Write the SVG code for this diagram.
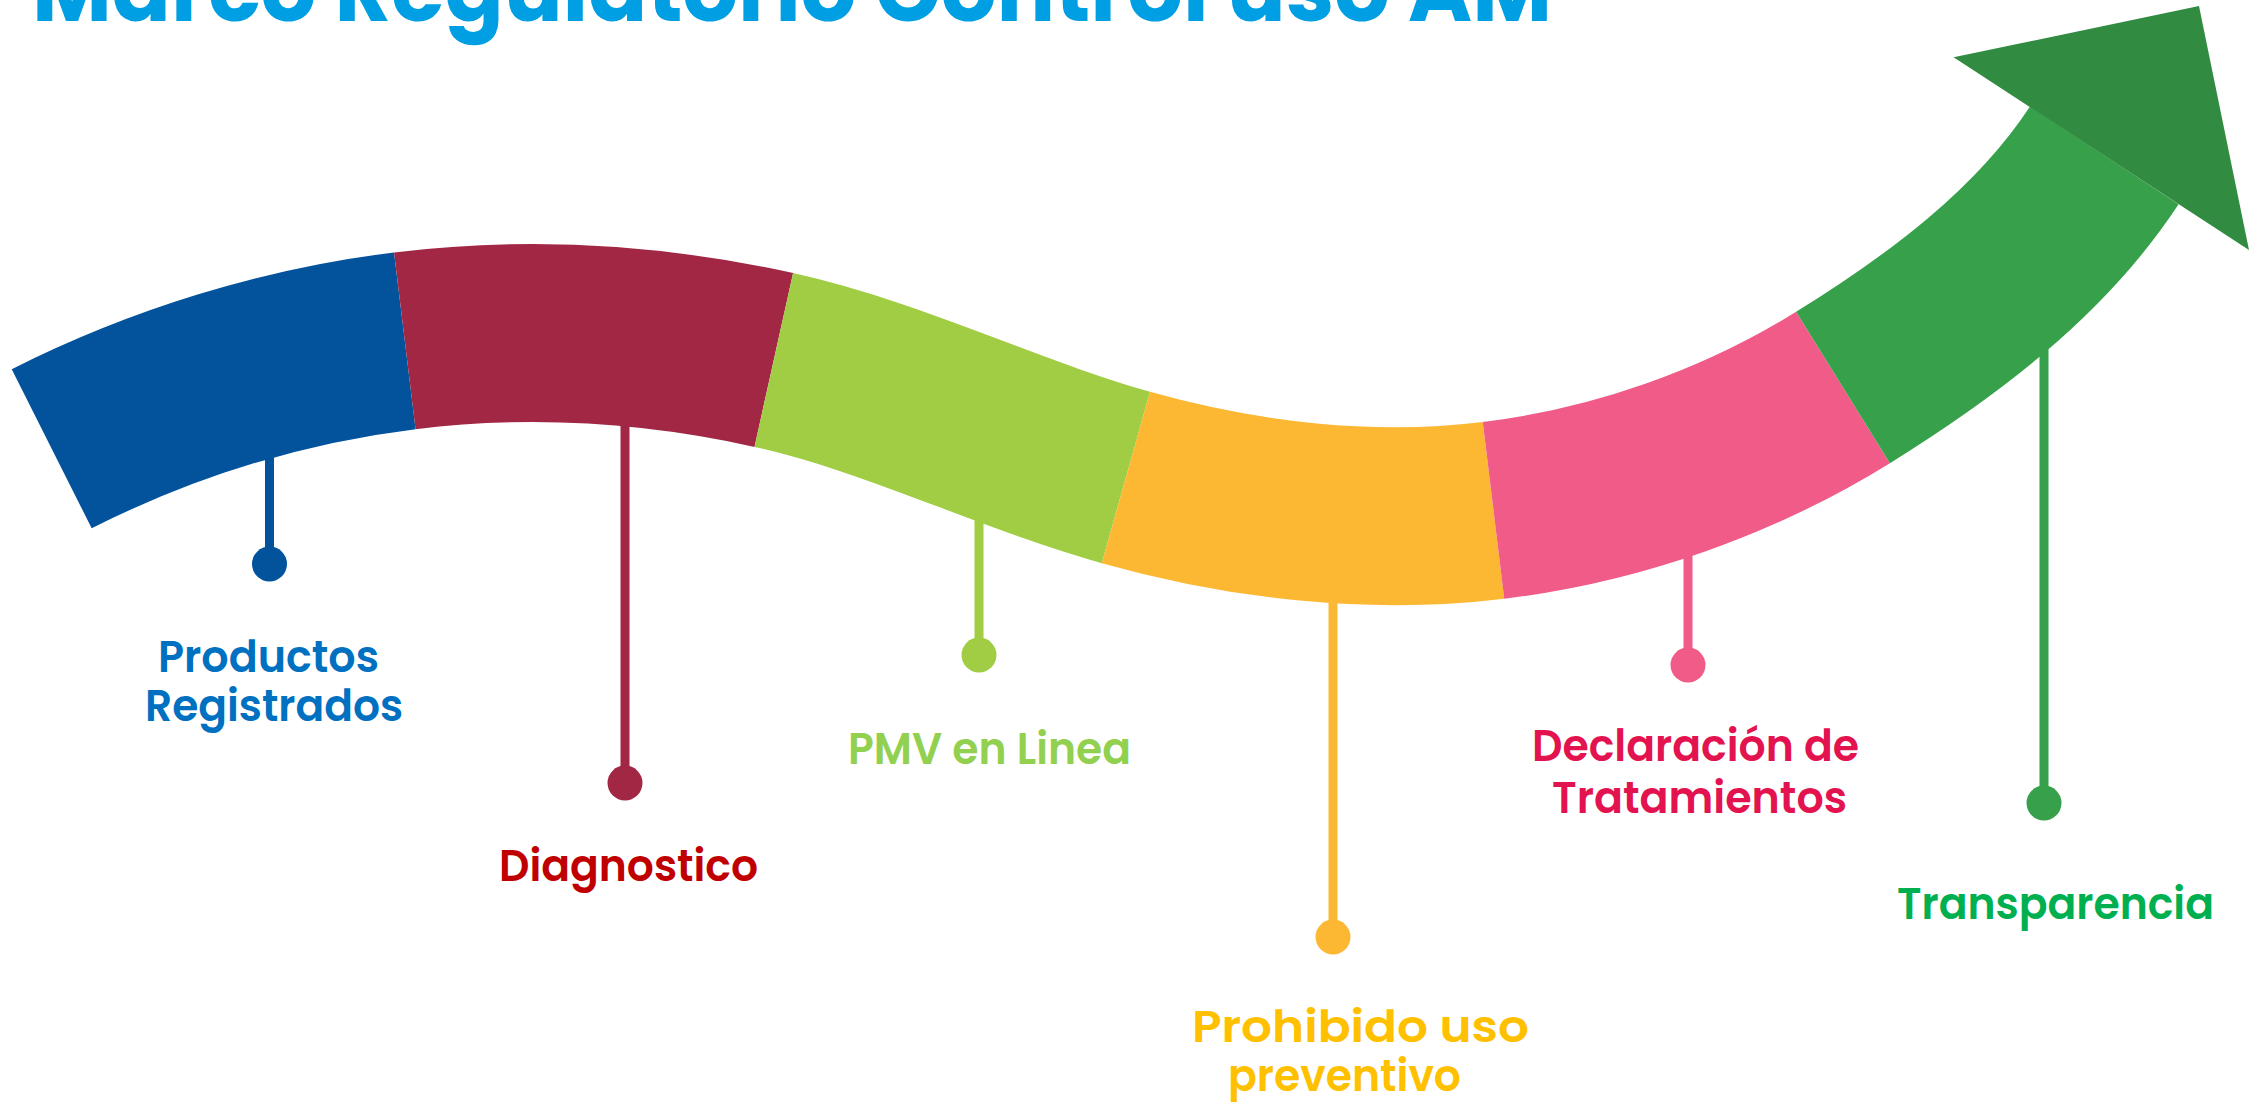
<svg xmlns="http://www.w3.org/2000/svg" width="2257" height="1102" viewBox="0 0 2257 1102">
  <style>
    .seg { fill: none; stroke-width: 178; stroke-linecap: butt; }
    .stick { stroke-width: 9; fill: none; }
    .lbl { font-family: Poppins, Inter, "Open Sans", "Liberation Sans", sans-serif; font-weight: 600; font-size: 44px; }
    .title { font-family: Poppins, Inter, "Open Sans", "Liberation Sans", sans-serif; font-weight: 700; font-size: 89px; fill: #009FE3; }
  </style>
  <rect width="2257" height="1102" fill="#FFFFFF"/>

  <text class="title" x="32" y="21" textLength="1520" lengthAdjust="spacingAndGlyphs">Marco Regulatorio Control uso AM</text>

  <g id="connectors">
    <line class="stick" x1="269.5" y1="430" x2="269.5" y2="564" stroke="#02529C"/>
    <line class="stick" x1="625" y1="400" x2="625" y2="783" stroke="#A12744"/>
    <line class="stick" x1="979" y1="490" x2="979" y2="655" stroke="#A0CD44"/>
    <line class="stick" x1="1333" y1="580" x2="1333" y2="937" stroke="#FCB833"/>
    <line class="stick" x1="1688" y1="530" x2="1688" y2="665" stroke="#F05B87"/>
    <line class="stick" x1="2044" y1="320" x2="2044" y2="803" stroke="#37A04A"/>
  </g>

  <g id="ribbon">
    <path class="seg" stroke="#02529C" d="M51.7,448.7 C161.5,393.5 282.7,355.7 404.8,340.8"/>
    <path class="seg" stroke="#A12744" d="M404.8,340.8 C527.1,325.9 653.6,333.3 773.8,360"/>
    <path class="seg" stroke="#A0CD44" d="M773.8,360 C894.5,386.8 1006.9,444 1125.9,477.5"/>
    <path class="seg" stroke="#FCB833" d="M1125.9,477.5 C1244.2,510.8 1371.4,525.3 1493.5,510.4"/>
    <path class="seg" stroke="#F05B87" d="M1493.5,510.4 C1616.1,495.5 1738,452.6 1843,387.5"/>
    <path class="seg" stroke="#37A04A" d="M1843,387.5 C1942,326.1 2040.2,252.9 2104.2,155.5"/>
    <polygon id="arrowhead" points="1953.6,57.3 2199,6 2249,250" fill="#318C42"/>
  </g>

  <g id="node-productos">
    <circle cx="269.5" cy="564" r="17.5" fill="#02529C"/>
    <text class="lbl" fill="#0070C0" x="158" y="672" textLength="221" lengthAdjust="spacingAndGlyphs">Productos</text>
    <text class="lbl" fill="#0070C0" x="145" y="721" textLength="258" lengthAdjust="spacingAndGlyphs">Registrados</text>
  </g>
  <g id="node-diagnostico">
    <circle cx="625" cy="783" r="17.5" fill="#A12744"/>
    <text class="lbl" fill="#C00000" x="499" y="881" textLength="259" lengthAdjust="spacingAndGlyphs">Diagnostico</text>
  </g>
  <g id="node-pmv">
    <circle cx="979" cy="655" r="17.5" fill="#A0CD44"/>
    <text class="lbl" fill="#92D050" x="848" y="764" textLength="283" lengthAdjust="spacingAndGlyphs">PMV en Linea</text>
  </g>
  <g id="node-prohibido">
    <circle cx="1333" cy="937" r="17.5" fill="#FCB833"/>
    <text class="lbl" fill="#FFC000" x="1192" y="1042" textLength="337" lengthAdjust="spacingAndGlyphs">Prohibido uso</text>
    <text class="lbl" fill="#FFC000" x="1228" y="1091" textLength="233" lengthAdjust="spacingAndGlyphs">preventivo</text>
  </g>
  <g id="node-declaracion">
    <circle cx="1688" cy="665" r="17.5" fill="#F05B87"/>
    <text class="lbl" fill="#E3134F" x="1532" y="761" textLength="327" lengthAdjust="spacingAndGlyphs">Declaración de</text>
    <text class="lbl" fill="#E3134F" x="1552" y="813" textLength="295" lengthAdjust="spacingAndGlyphs">Tratamientos</text>
  </g>
  <g id="node-transparencia">
    <circle cx="2044" cy="803" r="17.5" fill="#37A04A"/>
    <text class="lbl" fill="#00B050" x="1897" y="919" textLength="317" lengthAdjust="spacingAndGlyphs">Transparencia</text>
  </g>
</svg>
